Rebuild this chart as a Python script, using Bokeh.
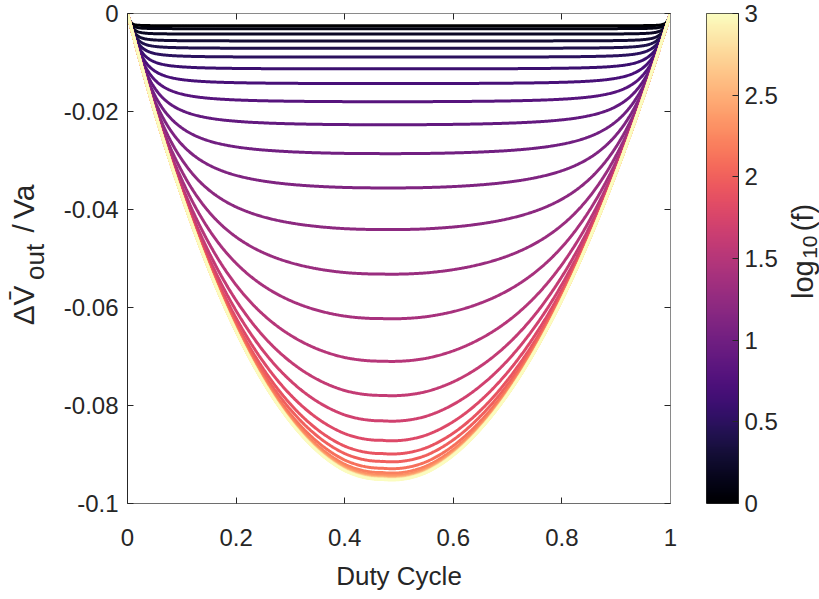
import numpy as np
from bokeh.plotting import figure
from bokeh.models import Range1d, LinearAxis, FixedTicker, Label, LinearColorMapper
from bokeh.layouts import row
from bokeh.palettes import Magma256
from bokeh.embed import file_html
from bokeh.resources import INLINE

# ---------------- data ----------------
log10_f = [0.0, 0.1, 0.2, 0.3, 0.4, 0.5, 0.6, 0.7, 0.8, 0.9,
           1.0, 1.1, 1.2, 1.3, 1.4, 1.5, 1.6, 1.7, 1.8, 1.9,
           2.0, 2.1, 2.2, 2.3, 2.4, 2.5, 2.6, 2.7, 2.8, 2.9, 3.0]
# depth of each curve at its flattest / lowest point (|dV/Va|)
curve_depth = [0.0025, 0.0031, 0.0042, 0.0056, 0.0071, 0.0089, 0.0113, 0.0143,
               0.0180, 0.0227, 0.0286, 0.0356, 0.0441, 0.0532, 0.0623, 0.0710,
               0.0780, 0.0832, 0.0872, 0.0899, 0.0915, 0.0929, 0.0938, 0.0943,
               0.0946, 0.0948, 0.0949, 0.0950, 0.0951, 0.0951, 0.0952]
# high-frequency envelope read from the outer (yellow) curve
env_duty = [0.0, 0.05, 0.10, 0.184, 0.30, 0.40, 0.47, 0.55, 0.65, 0.75, 0.87, 0.951, 1.0]
env_depth = [0.0, 0.0200, 0.0372, 0.0611, 0.0834, 0.0934, 0.0952, 0.0938,
             0.0849, 0.0690, 0.0409, 0.0167, 0.0]

x_ticks = [0, 0.2, 0.4, 0.6, 0.8, 1]
x_tick_labels = ["0", "0.2", "0.4", "0.6", "0.8", "1"]
y_ticks = [-0.1, -0.08, -0.06, -0.04, -0.02, 0]
y_tick_labels = ["-0.1", "-0.08", "-0.06", "-0.04", "-0.02", "0"]
cb_ticks = [0, 0.5, 1, 1.5, 2, 2.5, 3]
cb_tick_labels = ["0", "0.5", "1", "1.5", "2", "2.5", "3"]

FONT = "Liberation Sans"
TXT = "#262626"
H = 599
TOP, BOT = 13, 89   # border sizes shared by the main plot and the label strips

# ---------------- curves ----------------
D = np.linspace(0, 1, 601)
ed = np.array(env_duty)
ev = np.array(env_depth)
inner = (ed > 0) & (ed < 1)
ratio_pts = ev[inner] / (ed[inner] * (1 - ed[inner]))
rd = ed[inner]
ratio = np.interp(D, rd, ratio_pts)
lo = D < rd[0]
ratio[lo] = ratio_pts[0] + (D[lo] - rd[0]) * (ratio_pts[1] - ratio_pts[0]) / (rd[1] - rd[0])
hi = D > rd[-1]
ratio[hi] = ratio_pts[-1] + (D[hi] - rd[-1]) * (ratio_pts[-1] - ratio_pts[-2]) / (rd[-1] - rd[-2])
env = ratio * D * (1 - D)
emax = env.max()
n = 2.0


def blank_fig(w):
    # frame spans screen y TOP..H-BOT; y range expressed as (H - screen_y)
    f = figure(width=w, height=H, x_range=Range1d(0, w), y_range=Range1d(BOT, H - TOP),
               x_axis_type=None, y_axis_type=None, output_backend="svg",
               toolbar_location=None, min_border_left=0, min_border_right=0,
               min_border_top=TOP, min_border_bottom=BOT)
    f.grid.visible = False
    f.outline_line_color = None
    return f


def add_rot_label(f, x0, txt, sx, sy, fs):
    # (sx, sy) is the screen centre of the piece
    f.add_layout(Label(x=sx - x0, y=H - sy, text=txt, angle=np.pi / 2,
                       text_font=FONT, text_font_size=fs, text_color=TXT,
                       text_align="center", text_baseline="middle"))


# ---------------- y label strip (x 0..50) ----------------
ylab = blank_fig(50)
add_rot_label(ylab, 0, "\u0394", 23, 319, "30px")
add_rot_label(ylab, 0, "V\u0304", 23, 299, "30px")
add_rot_label(ylab, 0, "out", 34, 265, "26px")
add_rot_label(ylab, 0, "/", 23, 231, "30px")
add_rot_label(ylab, 0, "Va", 23, 204, "30px")

# ---------------- main figure (x 50..690) ----------------
p = figure(width=640, height=H, x_range=Range1d(0, 1), y_range=Range1d(-0.1, 0),
           x_axis_type=None, y_axis_type=None, output_backend="svg",
           toolbar_location=None, min_border_left=77, min_border_right=20,
           min_border_top=TOP, min_border_bottom=BOT)
p.grid.visible = False
p.outline_line_color = None

for lf, b in zip(log10_f, curve_depth):
    if b >= emax - 1e-5:
        y = -env
    else:
        Lm = (b ** -n - emax ** -n) ** (-1.0 / n)
        with np.errstate(divide="ignore"):
            y = -1.0 / (np.power(env, -n) + Lm ** -n) ** (1.0 / n)
        y[env <= 0] = 0.0
    idx = int(round(lf / 3.0 * 255))
    p.line(D, y, line_color=Magma256[idx], line_width=3)


def mk_axis(ticks, labels, show_labels, line_color):
    ax = LinearAxis(ticker=FixedTicker(ticks=ticks))
    ax.major_tick_in = 6
    ax.major_tick_out = 0
    ax.minor_tick_in = 0
    ax.minor_tick_out = 0
    ax.axis_line_color = line_color
    ax.major_tick_line_color = "#262626"
    ax.axis_line_width = 1
    ax.major_label_text_font = FONT
    ax.major_label_text_font_size = "24px"
    ax.major_label_text_color = TXT
    if show_labels:
        ax.major_label_overrides = {float(t): l for t, l in zip(ticks, labels)}
    else:
        ax.major_label_text_font_size = "0px"
        ax.major_label_text_color = None
    return ax


xb = mk_axis(x_ticks, x_tick_labels, True, "#6e6e6e")
xb.major_label_standoff = 25
xb.axis_label = "Duty Cycle"
xb.axis_label_text_font = FONT
xb.axis_label_text_font_size = "26px"
xb.axis_label_text_font_style = "normal"
xb.axis_label_text_color = TXT
xb.axis_label_standoff = 12
p.add_layout(xb, "below")
yl = mk_axis(y_ticks, y_tick_labels, True, "#262626")
yl.major_label_standoff = 9
p.add_layout(yl, "left")
p.add_layout(mk_axis(x_ticks, x_tick_labels, False, "#8a8a8a"), "above")
p.add_layout(mk_axis(y_ticks, y_tick_labels, False, "#8a8a8a"), "right")

# ---------------- colorbar (x 690..785) ----------------
cb = figure(width=95, height=H, x_range=Range1d(0, 1), y_range=Range1d(0, 3),
            x_axis_type=None, y_axis_type=None, output_backend="svg",
            toolbar_location=None, min_border_left=16, min_border_right=47,
            min_border_top=12, min_border_bottom=96)
cb.grid.visible = False
cb.outline_line_color = "#262626"
cb.outline_line_width = 1
mapper = LinearColorMapper(palette=Magma256, low=0, high=3)
grad = np.linspace(0, 3, 256).reshape(256, 1)
cb.image(image=[grad], x=0, y=0, dw=1, dh=3, color_mapper=mapper)
cax = mk_axis(cb_ticks, cb_tick_labels, True, "#262626")
cax.major_label_standoff = 6
cb.add_layout(cax, "right")

# ---------------- colorbar label strip (x 785..819) ----------------
clab = blank_fig(34)
add_rot_label(clab, 785, "log", 802, 283, "29px")
add_rot_label(clab, 785, "10", 809, 250, "21px")
add_rot_label(clab, 785, "(f)", 802, 220, "29px")

layout = row(ylab, p, cb, clab)
open("out.html", "w").write(file_html(layout, INLINE))
